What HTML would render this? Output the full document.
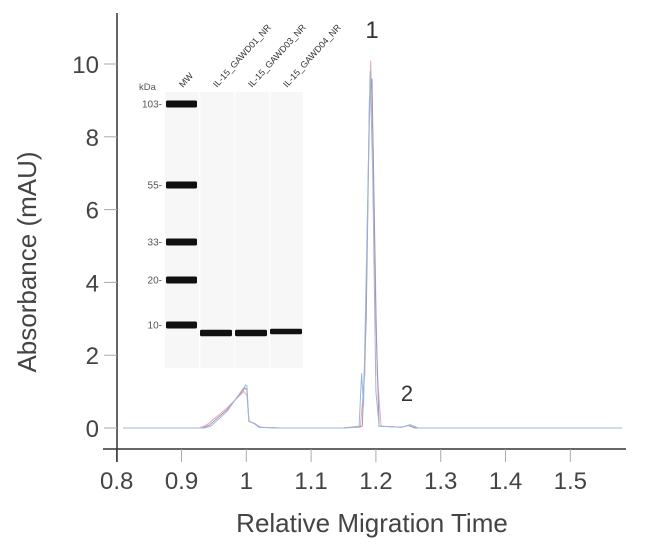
<!DOCTYPE html>
<html><head><meta charset="utf-8"><style>
html,body{margin:0;padding:0;background:#fff;}
svg{display:block;font-family:"Liberation Sans",sans-serif;}
</style></head><body>
<svg id="chart" width="650" height="544" viewBox="0 0 650 544" xmlns="http://www.w3.org/2000/svg">
<g id="axes"></g>
<g id="gel"></g>
<g id="series"></g>
<text x="372" y="38" font-size="24" fill="#333" text-anchor="middle">1</text>
<text x="407" y="401" font-size="22" fill="#333" text-anchor="middle">2</text>
<text x="372" y="532" font-size="26" fill="#444" text-anchor="middle">Relative Migration Time</text>
<text transform="translate(36,262) rotate(-90)" font-size="26" fill="#444" text-anchor="middle">Absorbance (mAU)</text>
</svg>
<script>
const xTicks = [0.8,0.9,1.0,1.1,1.2,1.3,1.4,1.5];
const xTickLabels = ["0.8","0.9","1","1.1","1.2","1.3","1.4","1.5"];
const yTicks = [0,2,4,6,8,10];
const yTickLabels = ["0","2","4","6","8","10"];
const pinkX = [0.81,0.90,0.928,0.94,0.97,0.996,1.001,1.004,1.012,1.02,1.05,1.15,1.176,1.183,1.188,1.192,1.196,1.202,1.208,1.24,1.25,1.26,1.4,1.58];
const pinkY = [0,0,0,0.1,0.55,1.0,0.9,0.2,0.12,0.02,0,0,0.02,1.5,6.5,10.1,7.5,1.5,0.05,0.02,0.08,0,0,0];
const blueX = [0.81,0.90,0.935,0.945,0.97,0.999,1.001,1.004,1.013,1.022,1.05,1.15,1.174,1.178,1.181,1.186,1.191,1.195,1.2,1.205,1.24,1.253,1.265,1.4,1.58];
const blueY = [0,0,0,0.05,0.45,1.18,1.15,0.18,0.12,0.02,0,0,0.05,1.5,0.6,5.0,9.8,7.0,1.0,0.05,0.02,0.09,0,0,0];
const grayX = [0.81,0.90,0.932,0.943,0.97,0.998,1.001,1.004,1.013,1.02,1.05,1.15,1.179,1.185,1.19,1.194,1.2,1.205,1.24,1.25,1.26,1.4,1.58];
const grayY = [0,0,0,0.08,0.5,1.1,1.05,0.18,0.12,0.02,0,0,0.05,3.0,9.0,9.6,3.0,0.05,0.02,0.07,0,0,0];
const mwLabels = ["103","55","33","20","10"];
const mwBandY = [104,185,242,280,325];
const laneNames = ["MW","IL-15_GAWD01_NR","IL-15_GAWD03_NR","IL-15_GAWD04_NR"];

const NS="http://www.w3.org/2000/svg";
function xs(v){return 116.7+(v-0.8)*648;}
function ys(v){return 428-v*36.4;}
function mk(tag,attrs,parent){const e=document.createElementNS(NS,tag);for(const k in attrs)e.setAttribute(k,attrs[k]);parent.appendChild(e);return e;}
const axes=document.getElementById('axes');
let l=mk('line',{x1:103,y1:449,x2:626,y2:449,stroke:'#333','stroke-width':1.5},axes);


l=mk('line',{x1:117,y1:13,x2:117,y2:462,stroke:'#333','stroke-width':1.5},axes);


xTicks.forEach((v,i)=>{
  const t=mk('line',{x1:xs(v),y1:449,x2:xs(v),y2:462,stroke:i==0?'#333':'#aaa','stroke-width':1},axes);
  
  
  const tx=mk('text',{x:xs(v),y:489,'font-size':24,fill:'#444','text-anchor':'middle'},axes);
  tx.textContent=xTickLabels[i];
  
  
});
yTicks.forEach((v,i)=>{
  const t=mk('line',{x1:104,y1:ys(v),x2:117,y2:ys(v),stroke:'#aaa','stroke-width':1},axes);
  
  
  const tx=mk('text',{x:99,y:ys(v)+9,'font-size':24,fill:'#444','text-anchor':'end'},axes);
  tx.textContent=yTickLabels[i];
  
  
});
// gel
const gel=document.getElementById('gel');
let r=mk('rect',{x:165,y:92,width:138,height:276,fill:'#f7f7f7'},gel);


[199,234,269].forEach(x=>{const s=mk('rect',{x:x,y:92,width:1.5,height:276,fill:'#fdfdfd'},gel);
  
  });
let kd=mk('text',{x:139,y:90,'font-size':9.5,fill:'#555'},gel);kd.textContent='kDa';


mwLabels.forEach((lab,i)=>{
  const b=mk('rect',{x:166,y:mwBandY[i]-3.5,width:31,height:7,rx:1.5,fill:'#111'},gel);
  
  
  const t=mk('text',{x:162,y:mwBandY[i]+3.5,'font-size':10,fill:'#555','text-anchor':'end'},gel);
  t.textContent=lab+'-';
  
  
});
[[200,333,32,6.5],[235,333,32,6.5],[270,331.5,32,5.5]].forEach((b,i)=>{
  const e=mk('rect',{x:b[0],y:b[1]-b[3]/2,width:b[2],height:b[3],rx:1.5,fill:'#111'},gel);
  
  
});
[183,217,252,287].forEach((x,i)=>{
  const t=mk('text',{x:x,y:88,'font-size':9,fill:'#333',transform:`rotate(-48 ${x} 88)`},gel);
  t.textContent=laneNames[i];
  
  
});
// series
const sg=document.getElementById('series');
[[pinkX,pinkY,'#e9aab6','pink-trace'],[grayX,grayY,'#a496ae','gray-trace'],[blueX,blueY,'#9ab8dc','blue-trace']].forEach(s=>{
  const pts=s[0].map((x,i)=>xs(x).toFixed(1)+','+ys(s[1][i]).toFixed(1)).join(' ');
  const p=mk('polyline',{points:pts,fill:'none',stroke:s[2],'stroke-width':1},sg);
  
  
});
</script>
</body></html>
